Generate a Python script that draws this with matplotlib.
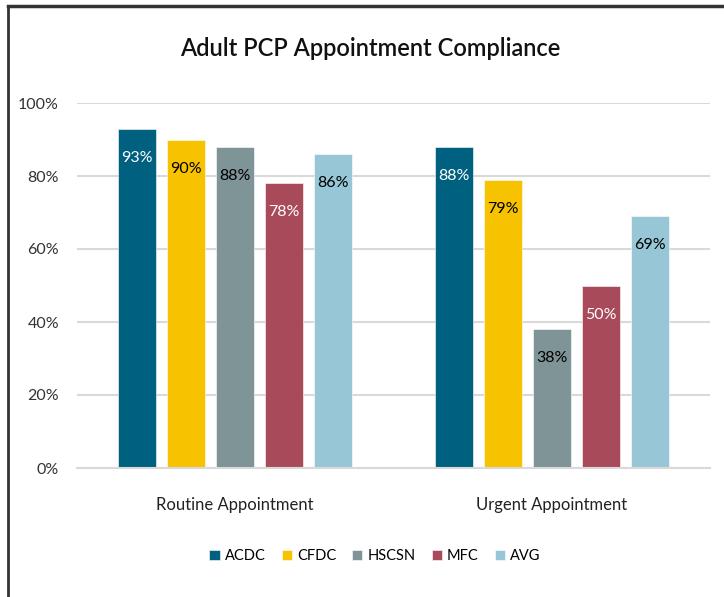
import numpy as np
import matplotlib.pyplot as plt

categories = ["Routine Appointment", "Urgent Appointment"]
series = ["ACDC", "CFDC", "HSCSN", "MFC", "AVG"]
ACDC = [93, 88]
CFDC = [90, 79]
HSCSN = [88, 38]
MFC = [78, 50]
AVG = [86, 69]

colors = ["#00607F", "#F7C200", "#7F9497", "#A84A5A", "#97C6D6"]
label_colors = ["white", "black", "black", "white", "black"]

plt.rcParams['font.family'] = ['Lato', 'DejaVu Sans']

fig = plt.figure(figsize=(7.24, 5.97), dpi=100)
ax = fig.add_axes([77/724, (597-468)/597, (710-77)/724, (468-103)/597])

x = np.arange(len(categories))
step = 0.155
width = 0.12
values = [ACDC, CFDC, HSCSN, MFC, AVG]
for i, (name, vals) in enumerate(zip(series, values)):
    pos = x + (i - 2) * step
    ax.bar(pos, vals, width, color=colors[i], label=name, zorder=2,
           edgecolor='white', linewidth=0.4)
    for p, v in zip(pos, vals):
        ax.text(p, v - 8, f"{v}%", ha='center', va='center',
                color=label_colors[i], fontsize=11.5, zorder=3)

ax.set_xlim(-0.5, 1.5)
ax.set_ylim(0, 100)
ax.set_yticks(range(0, 101, 20))
ax.set_yticklabels([f"{t}%" for t in range(0, 101, 20)], fontsize=11.5, color='#333333')
ax.set_xticks(x)
ax.set_xticklabels(categories, fontsize=12, color='#222222')
ax.tick_params(axis='both', length=0)
ax.tick_params(axis='y', pad=13)
ax.tick_params(axis='x', pad=21)
ax.grid(axis='y', color='#d9d9d9', linewidth=1.5, zorder=0)
for s in ['top', 'right', 'left']:
    ax.spines[s].set_visible(False)
ax.spines['bottom'].set_color('#d9d9d9')
ax.spines['bottom'].set_linewidth(1.5)

fig.text(370/724, 1 - 48/597, "Adult PCP Appointment Compliance",
         ha='center', va='center', fontsize=17, color='#111111', fontweight='semibold')

leg = fig.legend(loc='center', bbox_to_anchor=(375/724, 1 - 556/597), ncol=5,
                 frameon=False, fontsize=10.5, handlelength=0.7, handleheight=0.7,
                 columnspacing=1.1, handletextpad=0.35)

# outer frame of the screenshot
fig.add_artist(plt.Line2D([8/724, 8/724], [0, 1 - 6/597], transform=fig.transFigure,
                          color='#333333', linewidth=2))
fig.add_artist(plt.Line2D([8/724, 1], [1 - 6/597, 1 - 6/597], transform=fig.transFigure,
                          color='#333333', linewidth=2.5))

fig.savefig("out.png", dpi=100)
